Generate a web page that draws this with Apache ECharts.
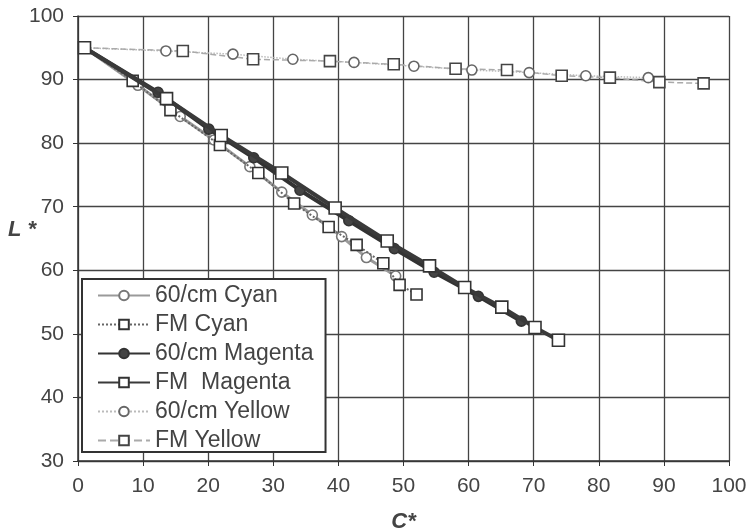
<!DOCTYPE html>
<html>
<head>
<meta charset="utf-8">
<script src="https://cdn.jsdelivr.net/npm/echarts@6/dist/echarts.min.js"></script>
<style>
html, body { margin: 0; padding: 0; background: #fff; }
#chart { width: 751px; height: 530px; }
</style>
</head>
<body>
<div id="chart"></div>
<script>
// [C*, L*] pairs
var cyan60 = [[1, 95], [9.2, 89.1], [15.7, 84.2], [20.9, 80.5], [26.4, 76.3], [31.3, 72.3], [36.0, 68.7], [40.5, 65.3], [44.3, 62.0], [48.8, 59.1]];
var cyanFM = [[1, 95], [8.4, 89.8], [14.2, 85.2], [21.8, 79.7], [27.7, 75.3], [33.2, 70.5], [38.5, 66.8], [42.8, 64.0], [46.9, 61.1], [49.4, 57.7], [52.0, 56.2]];
var magenta60 = [[1, 95], [12.3, 88.0], [20.1, 82.2], [27.0, 77.7], [34.1, 72.6], [41.6, 67.8], [48.6, 63.4], [54.7, 59.7], [61.5, 55.9], [68.1, 52.0]];
var magentaFM = [[1, 95], [13.6, 87.0], [22.0, 81.2], [31.3, 75.3], [39.5, 69.8], [47.5, 64.6], [54.0, 60.7], [59.4, 57.3], [65.1, 54.2], [70.2, 51.0], [73.8, 49.0]];
var yellow60 = [[1, 95], [13.5, 94.5], [23.8, 94.0], [33.0, 93.2], [42.4, 92.7], [51.6, 92.1], [60.5, 91.5], [69.3, 91.1], [78.0, 90.6], [87.6, 90.3]];
var yellowFM = [[1, 95], [16.1, 94.5], [26.9, 93.2], [38.7, 92.9], [48.5, 92.4], [58.0, 91.7], [65.9, 91.5], [74.3, 90.6], [81.7, 90.3], [89.3, 89.6], [96.1, 89.4]];
var names = ['60/cm Cyan', 'FM Cyan', '60/cm Magenta', 'FM  Magenta', '60/cm Yellow', 'FM Yellow'];

var font = 'Liberation Sans, Arial, sans-serif';
var myChart = echarts.init(document.getElementById('chart'));

function line(name, data, symbol, size, fill, border, lineColor, lineWidth, lineType, z) {
    return {
        name: name,
        type: 'line',
        data: data,
        symbol: symbol,
        symbolSize: size,
        z: z,
        itemStyle: { color: fill, borderColor: border, borderWidth: 1.6 },
        lineStyle: { color: lineColor, width: lineWidth, type: lineType }
    };
}

option = {
    animation: false,
    backgroundColor: '#fff',
    textStyle: { fontFamily: font },
    grid: { left: 78, right: 22, top: 16, bottom: 69, outerBoundsMode: 'none' },
    // y轴标题
    graphic: [{
        type: 'text',
        left: 8,
        top: 219,
        style: { text: 'L *', fill: '#444', font: 'italic bold 22px ' + font }
    }],
    legend: {
        data: names,
        orient: 'vertical',
        left: 82,
        top: 279,
        width: 248,
        padding: [5, 12, 0, 15],
        itemWidth: 52,
        itemHeight: 12,
        itemGap: 6,
        backgroundColor: '#fff',
        borderColor: '#333',
        borderWidth: 2,
        borderRadius: 0,
        textStyle: { color: '#444', fontSize: 23, fontFamily: font }
    },
    xAxis: {
        type: 'value',
        min: 0, max: 100, interval: 10,
        name: 'C*',
        nameLocation: 'middle',
        nameGap: 50,
        nameTextStyle: { color: '#444', fontSize: 22, fontWeight: 'bold', fontStyle: 'italic' },
        axisLine: { lineStyle: { color: '#333', width: 1.5 } },//坐标线
        axisTick: { show: true, length: 5, lineStyle: { color: '#333' } },
        axisLabel: { color: '#444', fontSize: 21, margin: 15 },
        splitLine: { show: true, lineStyle: { color: '#444', width: 1.3 } }
    },
    yAxis: {
        type: 'value',
        min: 30, max: 100, interval: 10,
        axisLine: { lineStyle: { color: '#333', width: 1.5 } },
        axisTick: { show: true, length: 5, lineStyle: { color: '#333' } },
        axisLabel: { color: '#444', fontSize: 21, margin: 14 },
        splitLine: { show: true, lineStyle: { color: '#444', width: 1.3 } }
    },
    series: [
        line(names[0], cyan60, 'circle', 10, '#fff', '#777', '#9a9a9a', 3, 'solid', 3),
        line(names[1], cyanFM, 'rect', 11, '#fff', '#333', '#666', 2, 'dotted', 4),
        line(names[2], magenta60, 'circle', 10, '#444', '#333', '#333', 4, 'solid', 5),
        line(names[3], magentaFM, 'rect', 12, '#fff', '#333', '#3a3a3a', 4, 'solid', 6),
        line(names[4], yellow60, 'circle', 10, '#fff', '#666', '#bbb', 1.5, 'dotted', 2),
        line(names[5], yellowFM, 'rect', 11, '#fff', '#444', '#aaa', 1.5, 'dashed', 2)
    ]
};
myChart.setOption(option);
</script>
</body>
</html>
